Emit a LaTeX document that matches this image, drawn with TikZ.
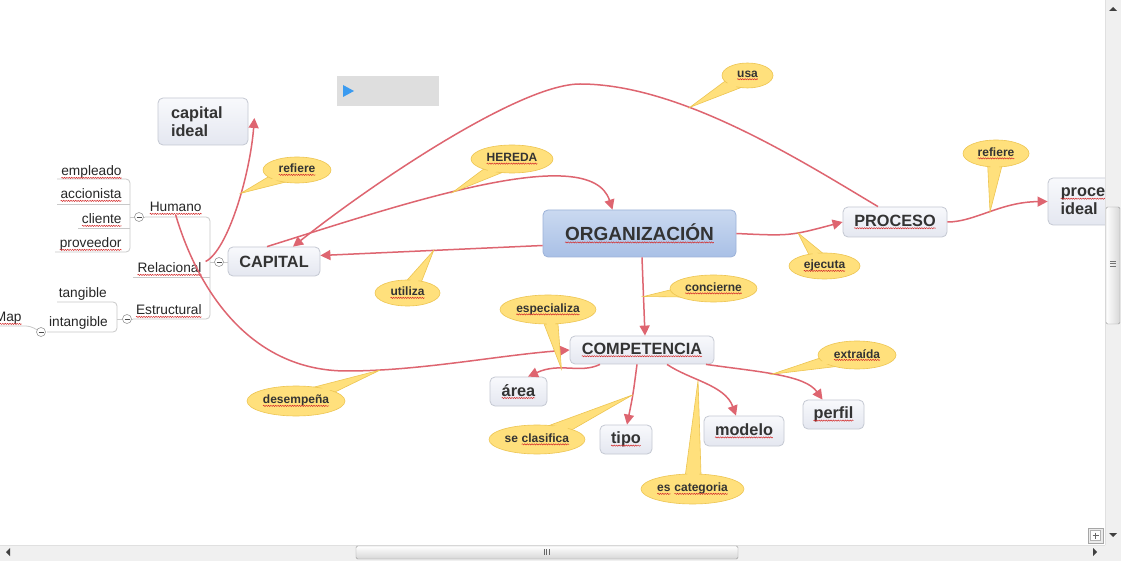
\documentclass[tikz,border=0pt]{standalone}
\usepackage{fontspec}
\setmainfont{Liberation Sans}
\usetikzlibrary{shapes.geometric}
\usetikzlibrary{calc}
\usetikzlibrary{positioning, arrows.meta}
\usetikzlibrary{decorations.pathmorphing}

\definecolor{linkred}{HTML}{DE6570}
\definecolor{spellred}{HTML}{D42A2A}
\definecolor{bubblefill}{HTML}{FFE07C}
\definecolor{bubbleline}{HTML}{EDC552}
\definecolor{topicline}{HTML}{C4C8D2}
\definecolor{topictop}{HTML}{F8F9FC}
\definecolor{topicbot}{HTML}{E4E7F0}
\definecolor{orgtop}{HTML}{CAD9F0}
\definecolor{orgbot}{HTML}{A9C0E6}
\definecolor{orgline}{HTML}{9CB2D8}
\definecolor{textgray}{HTML}{333333}
\definecolor{treeline}{HTML}{C9C9C9}
\definecolor{barbg}{HTML}{F0F0F0}
\definecolor{playblue}{HTML}{3B9BF0}

% red spell-check underline
\newcommand{\wv}[1]{\tikz[baseline=(w.base)]{\node[inner sep=0pt, outer sep=0pt, minimum width=0pt, minimum height=0pt, text width={}, anchor=center, draw=none, fill=none] (w) {#1};\draw[sharp corners, spellred, line width=0.5pt, decorate, decoration={snake, amplitude=0.6pt, segment length=2.4pt}] ([yshift=-1.9pt]w.base west) -- ([yshift=-1.9pt]w.base east);}}

\tikzset{
  topic/.style={rectangle, rounded corners=5bp, draw=topicline, line width=0.8bp, top color=topictop, bottom color=topicbot, text=textgray, font=\fontsize{16.3bp}{18bp}\selectfont\bfseries, inner sep=0pt},
  orgbox/.style={topic, draw=orgline, top color=orgtop, bottom color=orgbot, font=\fontsize{19bp}{22bp}\selectfont\bfseries},
  bubble/.style={ellipse, draw=bubbleline, line width=0.6bp, fill=bubblefill, inner sep=0pt},
  bubbletext/.style={text=textgray, font=\fontsize{12bp}{14bp}\selectfont\bfseries, inner sep=0pt},
  leaf/.style={text=black!85, font=\fontsize{13.7bp}{16bp}\selectfont, inner sep=0pt, anchor=base east},
  tree/.style={draw=treeline, line width=0.8bp},
  fold/.style={circle, draw=black!40, fill=white, line width=0.6bp, minimum size=9bp, inner sep=0pt, path picture={\draw[black!70, line width=0.8bp] ([xshift=-2.5bp]path picture bounding box.center) -- ([xshift=2.5bp]path picture bounding box.center);}},
  link/.style={draw=linkred, line width=1.5bp, -{Triangle[length=10bp,width=10bp]}}
}

\begin{document}
\begin{tikzpicture}[x=1bp, y=-1bp]
    \useasboundingbox[fill=white] (0,0) rectangle (1121,561);

    % tree on the left of CAPITAL
    \draw[tree, rounded corners=4bp] (145,217) -- (210,217) -- (210,319) -- (133,319);
    \draw[tree] (133,277) -- (210,277) (210,262) -- (228,262);
    \draw[tree, rounded corners=4bp] (57,179) -- (130,179) -- (130,252) -- (55,252);
    \draw[tree] (57,204) -- (130,204) (78,228) -- (130,228) (130,217) -- (145,217);
    \draw[tree, rounded corners=4bp] (57,302) -- (117,302) -- (117,332) -- (47,332);
    \draw[tree] (117,319) -- (133,319);
    \draw[tree, rounded corners=4bp] (0,326) -- (30,326) -- (41,332);

    \node[leaf] (empleado) at (122,176) {\wv{empleado}};
    \node[leaf] (accionista) at (122,199) {\wv{accionista}};
    \node[leaf] (cliente) at (122,224) {\wv{cliente}};
    \node[leaf] (proveedor) at (122,248) {\wv{proveedor}};
    \node[leaf] (humano) at (202,212) {\wv{Humano}};
    \node[leaf] (relacional) at (202,273) {\wv{Relacional}};
    \node[leaf] (estructural) at (202,315) {\wv{Estructural}};
    \node[leaf] (tangible) at (107,298) {tangible};
    \node[leaf] (intangible) at (108,327) {intangible};
    \node[leaf] (map) at (22,322) {\wv{Map}};

    % topics
    \node[topic, minimum width=90bp, minimum height=47bp, text width=64bp, align=left] (cideal) at (203,121.5) {capital\\ideal};
    \node[topic, minimum width=92bp, minimum height=29bp] (capital) at (274,261.5) {CAPITAL};
    \node[orgbox, minimum width=193bp, minimum height=47bp] (org) at (639.5,233.5) {\wv{ORGANIZACIÓN}};
    \node[topic, minimum width=104bp, minimum height=30bp] (proceso) at (895,222) {\wv{PROCESO}};
    \node[topic, minimum width=89bp, minimum height=47bp, text width=64bp, align=left] (pideal) at (1092.5,201.5) {\wv{proceso}\\ideal};
    \node[topic, minimum width=144bp, minimum height=28bp] (competencia) at (642,350) {\wv{COMPETENCIA}};
    \node[topic, minimum width=57bp, minimum height=29bp] (area) at (518.5,391.5) {\wv{área}};
    \node[topic, minimum width=52bp, minimum height=29bp] (tipo) at (626,439.5) {\wv{tipo}};
    \node[topic, minimum width=80bp, minimum height=30bp] (modelo) at (744,431) {\wv{modelo}};
    \node[topic, minimum width=61bp, minimum height=29bp] (perfil) at (833.5,414.5) {\wv{perfil}};

    % relations
    \draw[link] ([yshift=-12bp]org.west) -- ([yshift=6bp]capital.east) coordinate[pos=0.49] (t-utiliza);
    \draw[link] ([xshift=-7bp]capital.north) .. controls (400,205) and (590,140) .. ([xshift=-27bp]org.north) coordinate[pos=0.43] (t-hereda);
    \draw[link] ([xshift=-17bp]proceso.north) .. controls (800,160) and (680,84) .. (580,84) coordinate[pos=0.65] (t-usa)
        .. controls (520,84) and (373,183) .. ([xshift=19bp]capital.north);
    \draw[link] (org.east) .. controls (790,236) .. (proceso.west) coordinate[pos=0.6] (t-ejecuta);
    \draw[link] (proceso.east) .. controls (975,222) and (1000,202) .. (pideal.west) coordinate[pos=0.5] (t-refiere2);
    \draw[link] ([xshift=2.5bp]org.south) -- ([xshift=3bp]competencia.north) coordinate[pos=0.5] (t-concierne);
    \draw[link] ([xshift=-22bp]capital.west) .. controls (228,250) and (250,175) .. ([xshift=6bp,yshift=3.5bp]cideal.east) coordinate[pos=0.58] (t-refiere1);
    \draw[link] (humano.south) .. controls (198,290) and (250,371) .. (347,371)
        .. controls (420,371) and (500,355) .. (competencia.west) coordinate[pos=0.15] (t-desempena);
    \draw[link] ([xshift=-42bp]competencia.south) .. controls (580,374) and (560,362) .. ([xshift=9.5bp]area.north) coordinate[pos=0.6] (t-especializa);
    \draw[link] ([xshift=-5bp]competencia.south) .. controls (633,395) .. ([xshift=1bp]tipo.north) coordinate[pos=0.5] (t-clasifica);
    \draw[link] ([xshift=25bp]competencia.south) .. controls (690,380) and (725,385) .. ([xshift=-8bp]modelo.north) coordinate[pos=0.4] (t-categoria);
    \draw[link] ([xshift=64bp]competencia.south) .. controls (760,372) and (805,375) .. ([xshift=-11bp]perfil.north) coordinate[pos=0.45] (t-extraida);

    % callouts
    \foreach \b/\p in {usa/{747.5,75.5}, hereda/{512,159}, refiere1/{297,170}, refiere2/{996,153.5}, ejecuta/{824.5,266}, utiliza/{407.5,293},
        concierne/{713.5,288.5}, especializa/{548,309.5}, desempena/{296,401}, clasifica/{537,439.5}, categoria/{692.5,489}, extraida/{857,355}}
      \draw[bubbleline, fill=bubblefill, line width=0.6bp] ($(\p)!9bp!90:(t-\b)$) -- (t-\b) -- ($(\p)!9bp!-90:(t-\b)$) -- cycle;

    \node[bubble, minimum width=51bp, minimum height=25bp] (usa) at (747.5,75.5) {};
    \node[bubble, minimum width=82bp, minimum height=28bp] (hereda) at (512,159) {};
    \node[bubble, minimum width=68bp, minimum height=26bp] (refiere1) at (297,170) {};
    \node[bubble, minimum width=66bp, minimum height=27bp] (refiere2) at (996,153.5) {};
    \node[bubble, minimum width=71bp, minimum height=26bp] (ejecuta) at (824.5,266) {};
    \node[bubble, minimum width=65bp, minimum height=26bp] (utiliza) at (407.5,293) {};
    \node[bubble, minimum width=87bp, minimum height=27bp] (concierne) at (713.5,288.5) {};
    \node[bubble, minimum width=96bp, minimum height=29bp] (especializa) at (548,309.5) {};
    \node[bubble, minimum width=98bp, minimum height=30bp] (desempena) at (296,401) {};
    \node[bubble, minimum width=96bp, minimum height=29bp] (clasifica) at (537,439.5) {};
    \node[bubble, minimum width=103bp, minimum height=30bp] (categoria) at (692.5,489) {};
    \node[bubble, minimum width=78bp, minimum height=28bp] (extraida) at (857,355) {};

    \foreach \b in {usa,hereda,refiere1,refiere2,ejecuta,utiliza,concierne,especializa,desempena,clasifica,categoria,extraida}
      \fill[bubblefill] ($(\b)!8bp!90:(t-\b)$) -- ($(\b)!0.5!(t-\b)$) -- ($(\b)!8bp!-90:(t-\b)$) -- cycle;

    \foreach \b/\t in {usa/{\wv{usa}}, hereda/{\wv{HEREDA}}, refiere1/{\wv{refiere}}, refiere2/{\wv{refiere}}, ejecuta/{\wv{ejecuta}},
        utiliza/{\wv{utiliza}}, concierne/{\wv{concierne}}, especializa/{\wv{especializa}}, desempena/{\wv{desempeña}},
        clasifica/{se \wv{clasifica}}, categoria/{\wv{es} \wv{categoria}}, extraida/{\wv{extraída}}}
      \node[bubbletext] (\b-txt) at (\b) {\t};

    % fold buttons
    \node[fold] (fold-capital) at (219,262) {};
    \node[fold] (fold-humano) at (139,217) {};
    \node[fold] (fold-estructural) at (127,319) {};
    \node[fold] (fold-intangible) at (41,332) {};

    % play box
    \fill[black!13] (337,76) rectangle (439,106);
    \fill[playblue] (343,85) -- (354,91) -- (343,97) -- cycle;

    % scroll bars
    \fill[barbg] (1105,0) rectangle (1121,561);
    \draw[black!12] (1105,0) -- (1105,545);
    \fill[black!75] (1109,11) -- (1117,11) -- (1113,7) -- cycle;
    \fill[black!75] (1109,533) -- (1117,533) -- (1113,537) -- cycle;
    \draw[black!40, left color=white, right color=black!16, rounded corners=1.5bp] (1106,207) rectangle (1120,324);
    \foreach \y in {261,263.5,266}
      \draw[black!55, line width=0.6bp] (1110,\y) -- (1116,\y);
    \fill[barbg] (0,545) rectangle (1105,561);
    \draw[black!12] (0,545) -- (1105,545);
    \draw[black!40, top color=white, bottom color=black!16, rounded corners=1.5bp] (356,546) rectangle (738,559);
    \foreach \x in {544,546.5,549}
      \draw[black!60, line width=0.6bp] (\x,549) -- (\x,555);
    \fill[black!75] (6,552) -- (10,548) -- (10,556) -- cycle;
    \fill[black!75] (1097,552) -- (1093,548) -- (1093,556) -- cycle;
    \draw[black!35, fill=black!8] (1088,528) rectangle (1103,543);
    \draw[black!30, fill=white] (1090.5,530.5) rectangle (1100.5,540.5);
    \draw[black!60] (1092.5,535.5) -- (1098.5,535.5) (1095.5,532.5) -- (1095.5,538.5);
\end{tikzpicture}
\end{document}
